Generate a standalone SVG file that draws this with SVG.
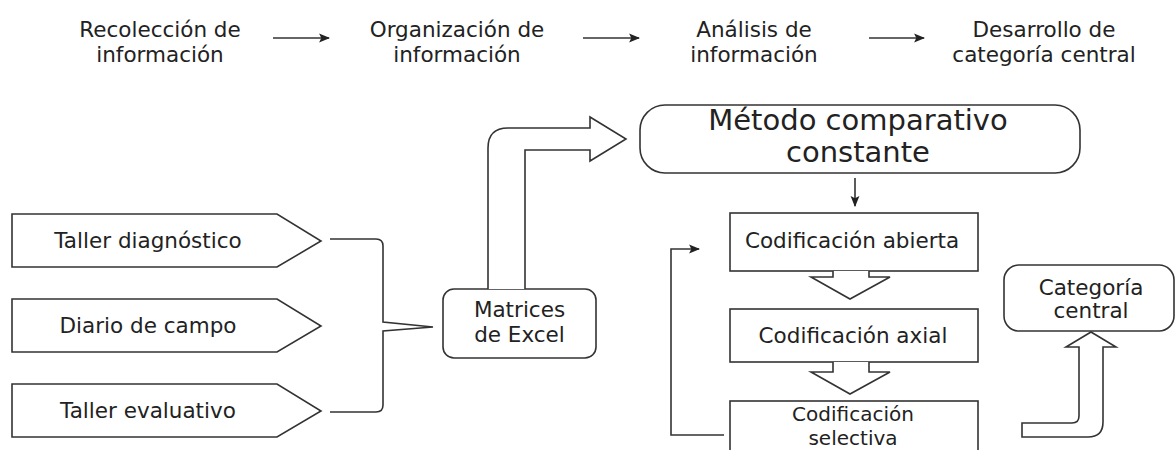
<svg xmlns="http://www.w3.org/2000/svg" width="1176" height="450" viewBox="0 0 1176 450">
<defs>
<style>
text{font-family:"DejaVu Sans","Liberation Sans",sans-serif;font-size:21.5px;fill:#222;text-anchor:middle}
.big{font-size:29px}
.sm{font-size:20px}
.s{fill:#fff;stroke:#333;stroke-width:1.6}
.l{fill:none;stroke:#333;stroke-width:1.6}
</style>
<marker id="ah" viewBox="0 0 10 10" refX="9" refY="5" markerWidth="11" markerHeight="11" markerUnits="userSpaceOnUse" orient="auto"><path d="M0,1 L10,5 L0,9 L2,5 Z" fill="#222"/></marker>
</defs>
<rect width="1176" height="450" fill="#fff"/>
<g id="stages">
<text x="160" y="37">Recolección de</text><text x="160" y="62">información</text>
<text x="457" y="37">Organización de</text><text x="457" y="62">información</text>
<text x="754" y="37">Análisis de</text><text x="754" y="62">información</text>
<text x="1044" y="37">Desarrollo de</text><text x="1044" y="62">categoría central</text>
</g>
<g id="n-taller-diag"><path class="s" d="M12,214 H277 L321,241 L277,267 H12 Z"/><text x="148" y="248">Taller diagnóstico</text></g>
<g id="n-diario"><path class="s" d="M12,299 H277 L321,326 L277,352 H12 Z"/><text x="148" y="333">Diario de campo</text></g>
<g id="n-taller-eval"><path class="s" d="M12,384 H277 L321,411 L277,437 H12 Z"/><text x="148" y="418">Taller evaluativo</text></g>
<g id="n-matrices"><rect class="s" x="443" y="289" width="153" height="69" rx="11"/><text x="519.5" y="317">Matrices</text><text x="519.5" y="342">de Excel</text></g>
<g id="n-metodo"><rect class="s" x="640" y="105" width="440" height="68" rx="25"/><text class="big" x="858" y="130">Método comparativo</text><text class="big" x="858" y="162">constante</text></g>
<g id="n-abierta"><rect class="s" x="730" y="213" width="248" height="58"/><text x="852" y="248">Codificación abierta</text></g>
<g id="n-axial"><rect class="s" x="730" y="309" width="248" height="53"/><text x="853" y="343">Codificación axial</text></g>
<g id="n-selectiva"><rect class="s" x="730" y="401" width="248" height="70"/><text class="sm" x="853" y="421">Codificación</text><text class="sm" x="853" y="445">selectiva</text></g>
<g id="n-categoria"><rect class="s" x="1004" y="265" width="170" height="66" rx="15"/><text x="1091" y="295">Categoría</text><text x="1091" y="318">central</text></g>
<g id="connectors">
<path class="l" d="M273,38 H329" marker-end="url(#ah)"/>
<path class="l" d="M583,38 H639" marker-end="url(#ah)"/>
<path class="l" d="M869,38 H924" marker-end="url(#ah)"/>
<path class="l" d="M330,239 H376 Q383,239 383,246 V322 L433,327 L383,331 V405 Q383,412 376,412 H330"/>
<path class="s" d="M488,289 V148 Q488,128 508,128 H590 V117 L626,139 L590,161 V150 H525 V289"/>
<path class="l" d="M855,178 V206" marker-end="url(#ah)"/>
<path class="l" d="M724,435 H671 V249 H699" marker-end="url(#ah)"/>
<path class="s" d="M833,271 V277 H811 L850,299 L890,277 H869 V271"/>
<path class="s" d="M833,362 V372 H811 L850,394 L890,372 H869 V362"/>
<path class="s" d="M1022,423 H1072 Q1079,423 1079,416 V347 H1066 L1091,332 L1116,347 H1103 V422 Q1103,437 1088,437 H1022 Z"/>
</g>
</svg>
